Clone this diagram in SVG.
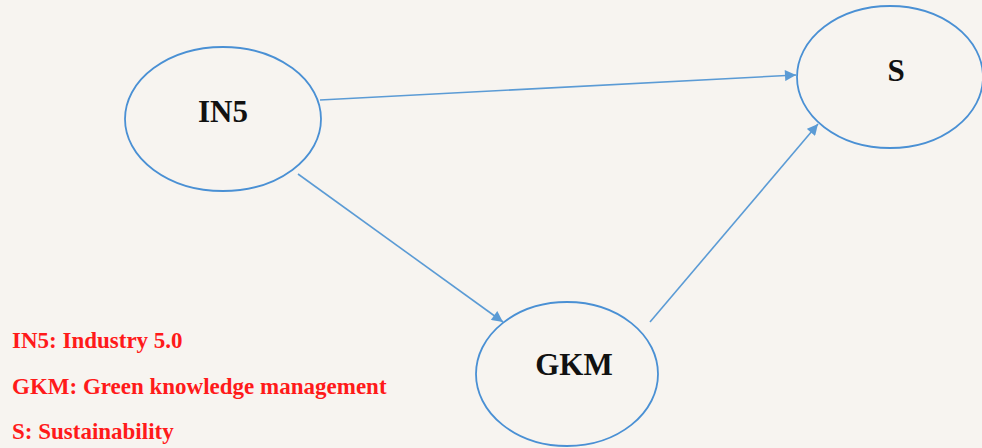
<svg xmlns="http://www.w3.org/2000/svg" width="982" height="448" viewBox="0 0 982 448">
<style>
.node{fill:none;stroke:#4a90d4;stroke-width:1.8}
.lbl{font-family:"Liberation Serif","Times New Roman",serif;font-weight:bold;font-size:31px;fill:#111;text-anchor:middle}
.leg{font-family:"Liberation Serif","Times New Roman",serif;font-weight:bold;font-size:23px;fill:#ff1a1a}
.edge{stroke:#5b9bd5;stroke-width:1.6;fill:none}
</style>
<defs>
<marker id="arr" viewBox="0 0 10 10" refX="10" refY="5" markerWidth="12" markerHeight="11" markerUnits="userSpaceOnUse" orient="auto">
<path d="M0,0 L10,5 L0,10 z" fill="#5b9bd5"/>
</marker>
</defs>
<rect width="982" height="448" fill="#f7f4f0"/>
<g id="connectors">
<line class="edge" x1="320" y1="100" x2="796" y2="75" marker-end="url(#arr)"/>
<line class="edge" x1="298" y1="174" x2="503" y2="322" marker-end="url(#arr)"/>
<line class="edge" x1="650" y1="322" x2="818" y2="124" marker-end="url(#arr)"/>
</g>
<g id="IN5">
<ellipse class="node" cx="223" cy="119" rx="98" ry="72"/>
<text class="lbl" x="223" y="122">IN5</text>
</g>
<g id="S">
<ellipse class="node" cx="890" cy="77" rx="93" ry="71"/>
<text class="lbl" x="896" y="81">S</text>
</g>
<g id="GKM">
<ellipse class="node" cx="567" cy="374" rx="91" ry="72"/>
<text class="lbl" x="574" y="375">GKM</text>
</g>
<g id="legend">
<text class="leg" x="12" y="348">IN5: Industry 5.0</text>
<text class="leg" x="12" y="394">GKM: Green knowledge management</text>
<text class="leg" x="12" y="439">S: Sustainability</text>
</g>
</svg>
